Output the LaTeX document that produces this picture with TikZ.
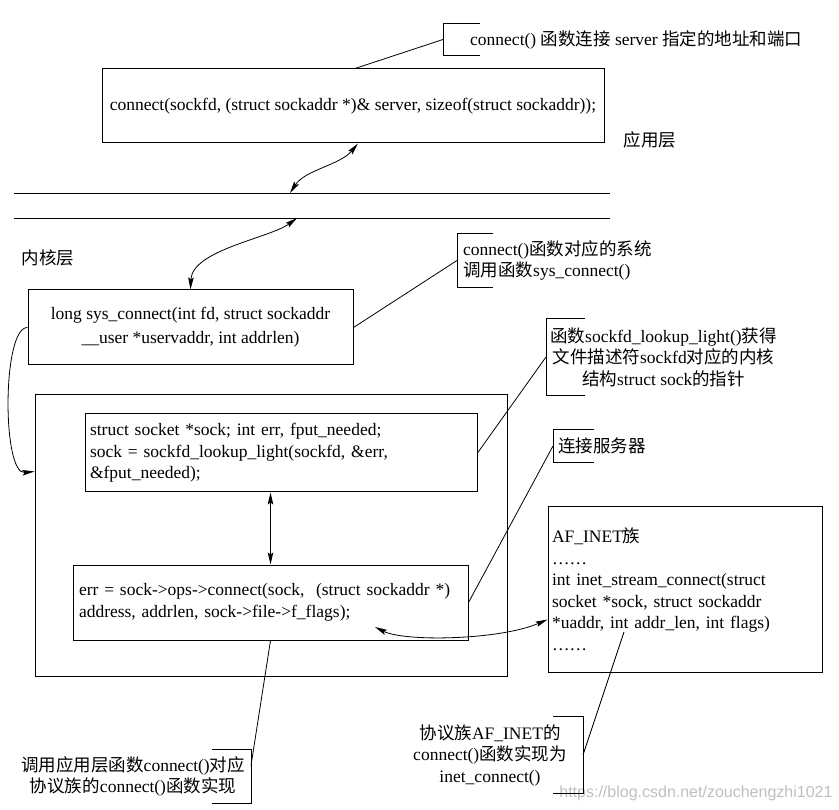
\documentclass[tikz,border=0pt]{standalone}
\usepackage{fontspec}
\setmainfont{Liberation Serif}
\newfontfamily\zhfont{Noto Sans CJK SC}
\newfontfamily\wmfont{Liberation Sans}
\newcommand{\zh}[1]{{\zhfont #1}}
\usetikzlibrary{arrows.meta}

\begin{document}
\begin{tikzpicture}[x=1pt,y=1pt]
      \tikzstyle{every node}=[font=\fontsize{17.5}{21.5}\selectfont]
      \tikzstyle{box}=[draw, line width=1pt, inner sep=0pt]
      \tikzstyle{note}=[inner ysep=0pt]
      \tikzstyle{lead}=[line width=0.8pt]
      \tikzstyle{twoway}=[line width=0.8pt, {Stealth[length=12pt,width=5.5pt,inset=2pt]}-{Stealth[length=12pt,width=5.5pt,inset=2pt]}]
      \tikzstyle{oneway}=[line width=0.8pt, -{Stealth[length=12pt,width=5.5pt,inset=2pt]}]
      \useasboundingbox (0,0) rectangle (839,-810);
      \node[box, minimum width=502pt, minimum height=74pt] (app) at (353,-106) {connect(sockfd, (struct sockaddr *)\& server, sizeof(struct sockaddr));};
      \node (applayer) at (650,-140) {\zh{应用层}};
      \node (kernlayer) at (48,-258) {\zh{内核层}};
      \node[box, minimum width=325pt, minimum height=75pt, align=center] (sys) at (190.5,-327.5) {long sys\_connect(int fd, struct sockaddr\\[2.5pt]\_\_user *uservaddr, int addrlen)};
      \node[box, minimum width=472pt, minimum height=281pt] (outer) at (271,-535.5) {};
      \node[box, text width=382pt, inner xsep=5pt, minimum height=78pt, align=left] (lookup) at (281,-453) {struct socket *sock; int err, fput\_needed;\\sock = sockfd\_lookup\_light(sockfd, \&err,\\\&fput\_needed);};
      \node[box, text width=383pt, inner xsep=6pt, minimum height=75pt, align=left] (call) at (270.5,-602.5) {err = sock->ops->connect(sock,\ \ (struct sockaddr *)\\address, addrlen, sock->file->f\_flags);};
      \node[box, text width=266pt, inner xsep=4pt, minimum height=165pt, align=left] (inet) at (685,-589.5) {AF\_INET\zh{族}\\……\\int inet\_stream\_connect(struct\\socket *sock, struct sockaddr\\{}*uaddr, int addr\_len, int flags)\\……};
      \node[note, anchor=west, inner xsep=27pt, minimum height=31pt] (n1) at (443,-39.5) {connect() \zh{函数连接} server \zh{指定的地址和端口}};
      \node[note, anchor=west, inner xsep=6pt, minimum height=53pt, align=left] (n2) at (457,-260.5) {connect()\zh{函数对应的系统}\\\zh{调用函数}sys\_connect()};
      \node[note, anchor=west, inner xsep=4pt, minimum height=76pt, align=center] (n3) at (546,-357) {\zh{函数}sockfd\_lookup\_light()\zh{获得}\\\zh{文件描述符}sockfd\zh{对应的内核}\\\zh{结构}struct sock\zh{的指针}};
      \node[note, anchor=west, inner xsep=5pt, minimum height=32pt] (n4) at (553,-446) {\zh{连接服务器}};
      \node[note, anchor=east, inner xsep=6pt, minimum height=53pt, align=center] (n5) at (251,-776.5) {\zh{调用应用层函数}connect()\zh{对应}\\\zh{协议族的}connect()\zh{函数实现}};
      \node[note, anchor=east, inner xsep=16pt, minimum height=76pt, align=center] (n6) at (583,-755) {\zh{协议族}AF\_INET\zh{的}\\connect()\zh{函数实现为}\\inet\_connect()};
      \node[anchor=east, text=black!25, font=\wmfont\fontsize{16}{18}\selectfont] (mark) at (836,-793) {https://blog.csdn.net/zouchengzhi1021};
      \draw[lead] ([xshift=37pt]n1.north west) -- (n1.north west) -- (n1.south west) -- ([xshift=37pt]n1.south west);
      \draw[lead] ([xshift=36pt]n2.north west) -- (n2.north west) -- (n2.south west) -- ([xshift=36pt]n2.south west);
      \draw[lead] ([xshift=39pt]n3.north west) -- (n3.north west) -- (n3.south west) -- ([xshift=39pt]n3.south west);
      \draw[lead] ([xshift=41pt]n4.north west) -- (n4.north west) -- (n4.south west) -- ([xshift=41pt]n4.south west);
      \draw[lead] ([xshift=-39pt]n5.north east) -- (n5.north east) -- (n5.south east) -- ([xshift=-39pt]n5.south east);
      \draw[lead] ([xshift=-30pt]n6.north east) -- (n6.north east) -- (n6.south east) -- ([xshift=-30pt]n6.south east);
      \draw[lead] (n1.west) -- ([xshift=2pt]app.north);
      \draw[lead] (n2.west) -- (sys.east);
      \draw[lead] (n3.west) -- (lookup.east);
      \draw[lead] (n4.west) -- (call.east);
      \draw[lead] (call.south) -- ([yshift=11pt]n5.east);
      \coordinate (inetpt) at (624,-632);
      \draw[lead] (inetpt) -- (n6.east);
      \coordinate (ul) at (14,-193);
      \coordinate (ur) at (610,-193);
      \coordinate (kl) at (14,-218);
      \coordinate (kr) at (610,-218);
      \draw[line width=0.9pt] (ul) -- (ur);
      \draw[line width=0.9pt] (kl) -- (kr);
      \coordinate (upin) at (290,-193);
      \coordinate (kin) at (297,-218);
      \draw[twoway] ([xshift=5pt]app.south) .. controls (340,-165) and (305,-170) .. (upin);
      \draw[twoway] (kin) .. controls (270,-238) and (192,-250) .. (sys.north);
      \draw[oneway] (sys.west) .. controls (2,-327) and (2,-475) .. ([yshift=-77pt]outer.north west);
      \draw[twoway] (lookup.south -| call.north) -- (call.north);
      \coordinate (callpt) at (375,-627);
      \draw[twoway] (callpt) .. controls (405,-642) and (500,-640) .. ([yshift=-30pt]inet.west);
\end{tikzpicture}
\end{document}
